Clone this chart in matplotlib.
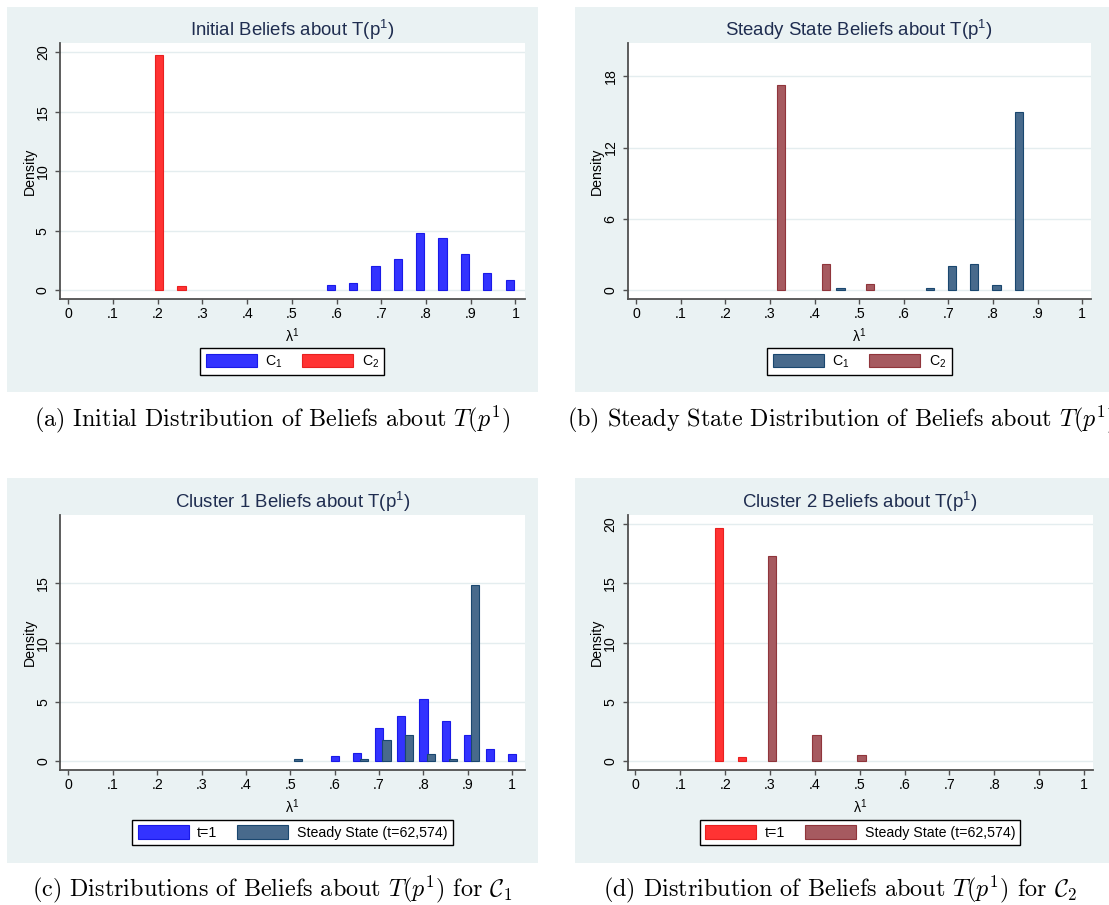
import matplotlib
matplotlib.use("Agg")
import matplotlib.pyplot as plt
from matplotlib.patches import Rectangle

plt.rcParams["font.family"] = ["Liberation Sans", "DejaVu Sans"]

# ------------------------------------------------------------
# Data
# ------------------------------------------------------------
xticks = [0, 0.1, 0.2, 0.3, 0.4, 0.5, 0.6, 0.7, 0.8, 0.9, 1.0]
xtick_labels = ["0", ".1", ".2", ".3", ".4", ".5", ".6", ".7", ".8", ".9", "1"]

# (a) initial beliefs
a_c1_x = [0.587, 0.637, 0.687, 0.737, 0.787, 0.837, 0.887, 0.937, 0.987]
a_c1_y = [0.42, 0.62, 2.02, 2.64, 4.83, 4.44, 3.03, 1.43, 0.84]
a_c2_x = [0.203, 0.253]
a_c2_y = [19.75, 0.34]

# (b) steady state beliefs
b_c1_x = [0.458, 0.658, 0.708, 0.758, 0.808, 0.858]
b_c1_y = [0.22, 0.22, 2.04, 2.21, 0.42, 15.01]
b_c2_x = [0.325, 0.425, 0.525]
b_c2_y = [17.23, 2.21, 0.53]

# (c) cluster 1
c_t1_x = [0.600, 0.650, 0.700, 0.750, 0.800, 0.850, 0.900, 0.950, 1.000]
c_t1_y = [0.45, 0.67, 2.83, 3.83, 5.23, 3.41, 2.24, 1.03, 0.64]
c_ss_x = [0.517, 0.667, 0.717, 0.767, 0.817, 0.867, 0.917]
c_ss_y = [0.22, 0.22, 1.82, 2.24, 0.64, 0.22, 14.83]

# (d) cluster 2
d_t1_x = [0.187, 0.237]
d_t1_y = [19.69, 0.34]
d_ss_x = [0.304, 0.404, 0.504]
d_ss_y = [17.31, 2.24, 0.53]

# ------------------------------------------------------------
# Style
# ------------------------------------------------------------
BG = "#eaf2f3"
GRID = "#e4edef"
AXIS = "#505050"
TITLE_C = "#1f2d50"
BLUE = ("#3333ff", "#1a1ae8")
RED = ("#ff3333", "#e82020")
NAVY = ("#486a8c", "#1a476f")
MAROON = ("#a65a60", "#90353b")
BAR_W = 0.0185
FS = 10.2

W, H = 1109, 905
fig = plt.figure(figsize=(W / 100, H / 100), dpi=100)
fig.patch.set_facecolor("white")


def px_box(x0, y0, x1, y1):
    return [x0 / W, 1 - y1 / H, (x1 - x0) / W, (y1 - y0) / H]


def background(x0, y0, x1, y1):
    fig.add_artist(Rectangle((x0 / W, 1 - y1 / H), (x1 - x0) / W, (y1 - y0) / H,
                             transform=fig.transFigure, facecolor=BG,
                             edgecolor="none", zorder=-5))


def panel(box, xlim, yticks, series, title, title_y, leg_y, leg_labels):
    x0, y0, x1, y1 = box
    ax = fig.add_axes(px_box(*box))
    ax.set_facecolor("white")
    for xs, ys, (fc, ec) in series:
        ax.bar(xs, ys, width=BAR_W, color=fc, edgecolor=ec, linewidth=0.8, zorder=3)

    ax.set_xlim(*xlim)
    ax.set_ylim(-0.72, 20.75)
    ax.set_xticks(xticks)
    ax.set_xticklabels(xtick_labels)
    ax.set_yticks(yticks)
    ax.set_yticklabels([str(t) for t in yticks])
    ax.yaxis.grid(True, color=GRID, linewidth=1.0)
    ax.set_axisbelow(True)

    for s in ["top", "right"]:
        ax.spines[s].set_visible(False)
    for s in ["left", "bottom"]:
        ax.spines[s].set_color(AXIS)
        ax.spines[s].set_linewidth(1.3)

    ax.tick_params(axis="both", direction="out", length=3.3, width=1.0,
                   color=AXIS, labelsize=FS)
    ax.tick_params(axis="x", pad=2.5)
    ax.tick_params(axis="y", pad=4, labelrotation=90)
    for lab in ax.get_yticklabels():
        lab.set_va("center")

    h_px = y1 - y0
    w_px = x1 - x0
    ax.set_xlabel("λ$^\\mathregular{1}$", fontsize=FS, va="center")
    ax.xaxis.set_label_coords(0.5, -37 / h_px)
    ax.set_ylabel("Density", fontsize=FS, va="center")
    ax.yaxis.set_label_coords(-30.5 / w_px, 0.5)

    cx = (x0 + x1) / 2
    fig.text(cx / W, 1 - title_y / H, title, ha="center", va="center",
             fontsize=13.4, color=TITLE_C)

    handles = [Rectangle((0, 0), 1, 1, facecolor=fc, edgecolor=ec, linewidth=0.8)
               for _, _, (fc, ec) in series]
    leg = ax.legend(handles, leg_labels, loc="center",
                    bbox_to_anchor=(cx / W, 1 - leg_y / H),
                    bbox_transform=fig.transFigure, ncol=2, fontsize=FS,
                    frameon=True, fancybox=False, edgecolor="black",
                    handlelength=3.6, handleheight=1.1, handletextpad=0.6,
                    columnspacing=1.4, borderpad=0.38, borderaxespad=0)
    leg.get_frame().set_linewidth(1.0)
    leg.get_frame().set_alpha(None)
    return ax


# grey graph regions
background(6.7, 6.7, 537.6, 391.7)
background(575, 6.7, 1109, 391.7)
background(6.7, 478, 537.6, 863.3)
background(575, 478, 1109, 863.3)

c_lab = ["C$_\\mathregular{1}$", "C$_\\mathregular{2}$"]
t_lab = ["t=1", "Steady State (t=62,574)"]
ttl = " Beliefs about T(p$^\\mathregular{1}$)"

panel((60, 43.3, 524.6, 299), (-0.0186, 1.0204), [0, 5, 10, 15, 20],
      [(a_c1_x, a_c1_y, BLUE), (a_c2_x, a_c2_y, RED)],
      "Initial" + ttl, 30, 361.5, c_lab)
panel((627.7, 43.3, 1091, 299), (-0.0186, 1.0195), [0, 6, 12, 18],
      [(b_c1_x, b_c1_y, NAVY), (b_c2_x, b_c2_y, MAROON)],
      "Steady State" + ttl, 30, 361.5, c_lab)
panel((60.4, 515, 524.6, 770), (-0.018, 1.028), [0, 5, 10, 15],
      [(c_t1_x, c_t1_y, BLUE), (c_ss_x, c_ss_y, NAVY)],
      "Cluster 1" + ttl, 501.7, 832.5, t_lab)
panel((627.5, 515, 1093, 770), (-0.0178, 1.0204), [0, 5, 10, 15, 20],
      [(d_t1_x, d_t1_y, RED), (d_ss_x, d_ss_y, MAROON)],
      "Cluster 2" + ttl, 501.7, 832.5, t_lab)

# LaTeX-style captions
cap_kw = dict(fontfamily="cmr10", math_fontfamily="cm", fontsize=17.4, va="center")
fig.text(272 / W, 1 - 419 / H,
         "(a) Initial Distribution of Beliefs about $T(p^1)$", ha="center", **cap_kw)
fig.text(567 / W, 1 - 419 / H,
         "(b) Steady State Distribution of Beliefs about $T(p^1)$", ha="left", **cap_kw)
fig.text(272.5 / W, 1 - 889.5 / H,
         "(c) Distributions of Beliefs about $T(p^1)$ for $\\mathcal{C}_1$",
         ha="center", **cap_kw)
fig.text(840.5 / W, 1 - 889.5 / H,
         "(d) Distribution of Beliefs about $T(p^1)$ for $\\mathcal{C}_2$",
         ha="center", **cap_kw)

fig.savefig("out.png", dpi=100)
